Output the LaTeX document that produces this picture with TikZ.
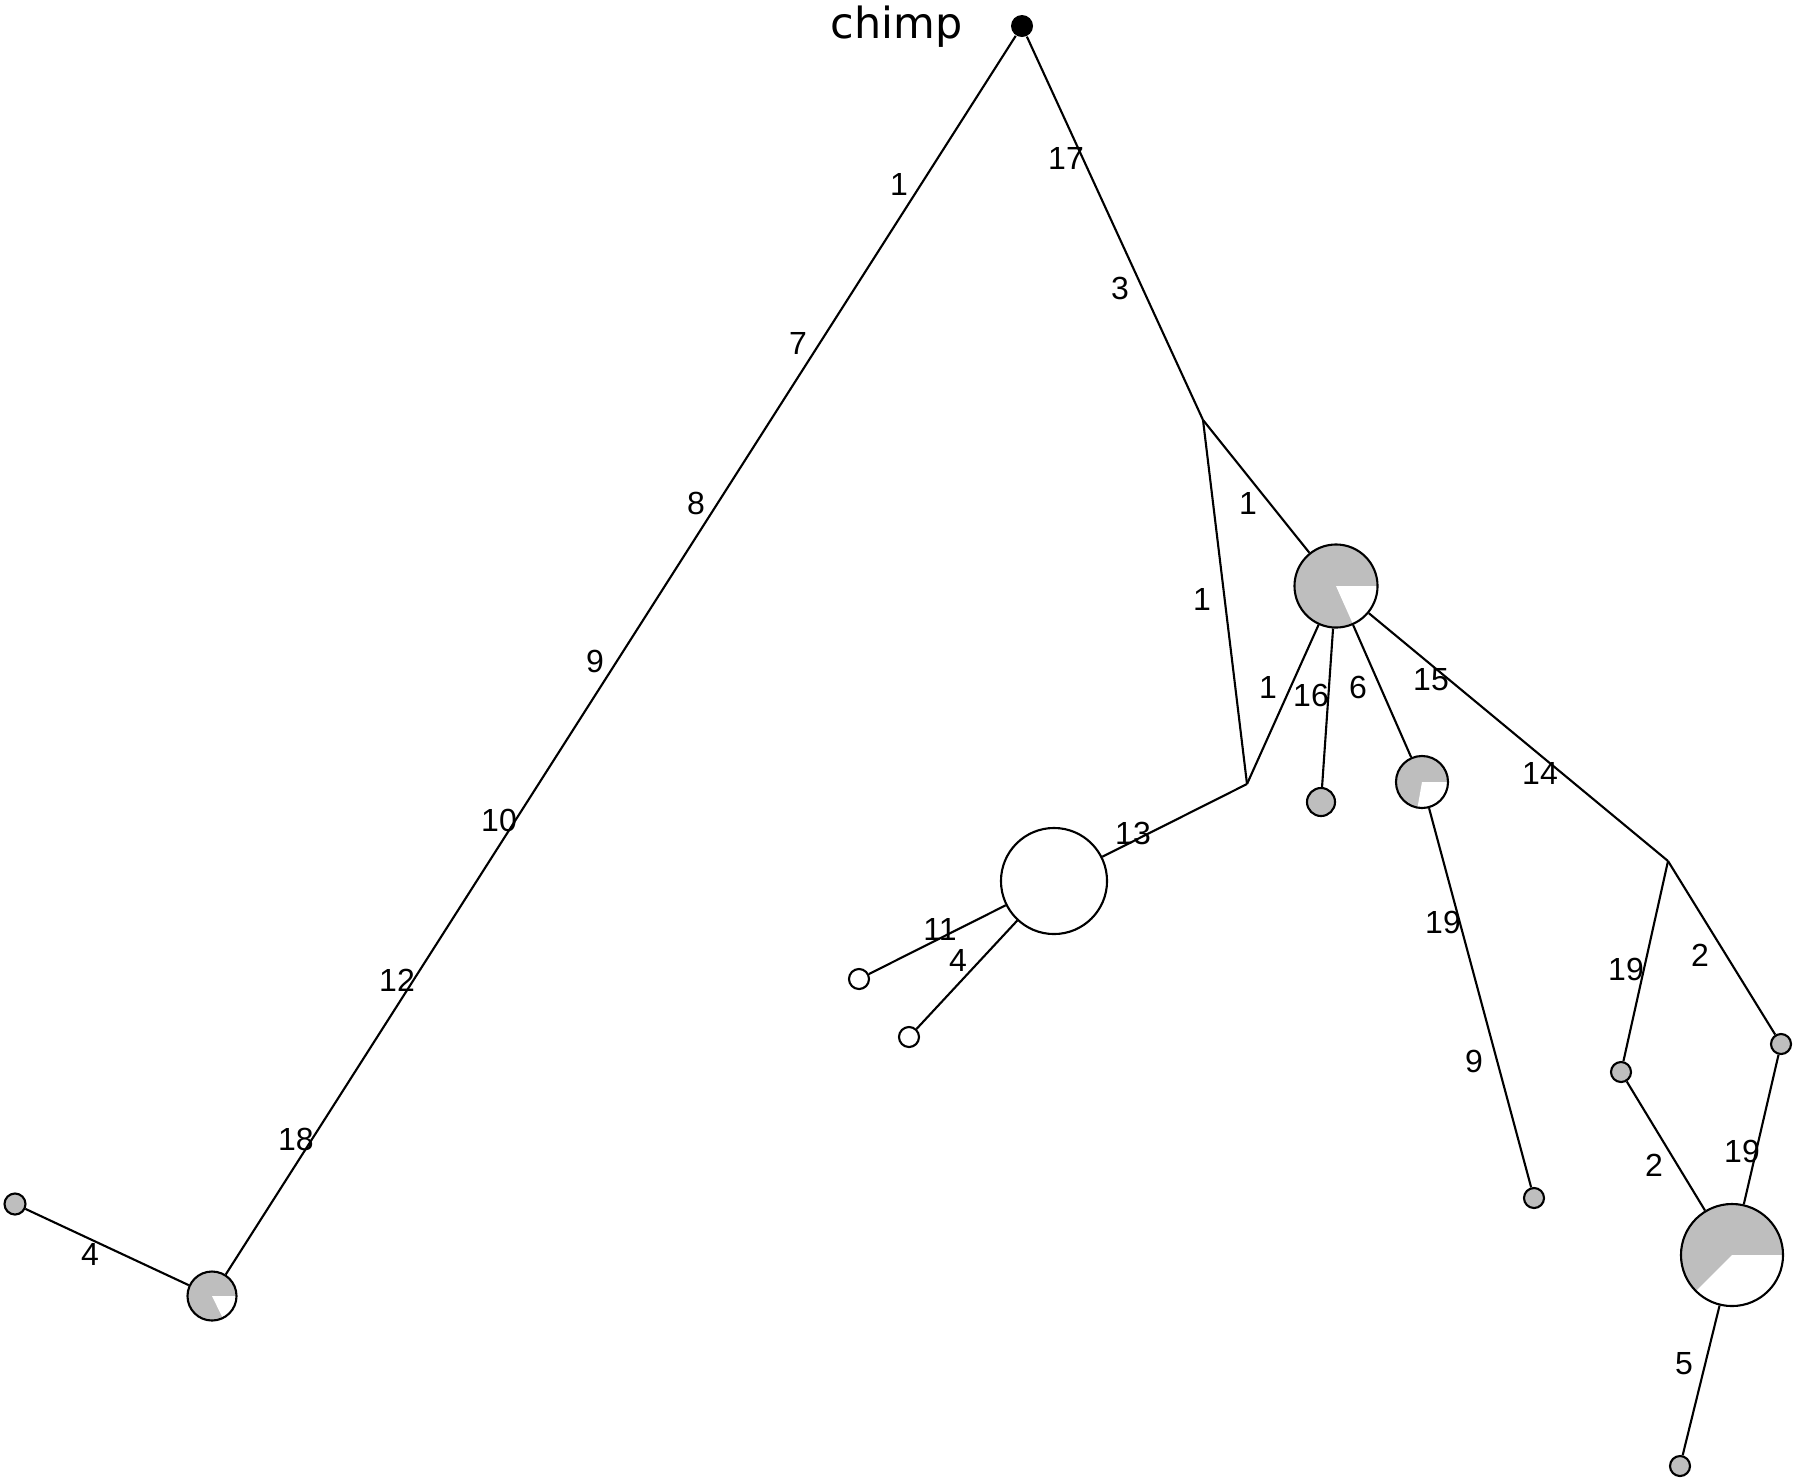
\documentclass[tikz,border=0pt]{standalone}
\usepackage{fontspec}
\setmainfont{Liberation Sans}
\newfontfamily\chimpfont{DejaVu Sans}
\definecolor{piegray}{RGB}{190,190,190}
\begin{document}
\begin{tikzpicture}[x=0.01cm,y=-0.01cm,
  edge/.style={draw=black,line width=0.6pt},
  hap/.style={circle,draw=black,line width=0.6pt,inner sep=0pt,minimum size=#1},
  grayhap/.style={hap=#1,fill=piegray},
  whitehap/.style={hap=#1,fill=white},
  pie/.style 2 args={hap=#1,fill=piegray,path picture={
     \fill[white] (path picture bounding box.center) -- +(0:3cm)
       arc[start angle=0,end angle=#2,radius=3cm] -- cycle;}},
  lab/.style={font=\fontsize{9.1pt}{10pt}\selectfont,inner sep=0pt}]
\useasboundingbox (0,0) rectangle (1800,1481);
% nodes
\node[circle,fill=black,inner sep=0pt,minimum size=0.22cm] (chimp) at (1022,26) {};
\node[anchor=base east,font=\chimpfont\fontsize{12.2pt}{14pt}\selectfont,inner sep=0pt] (chimplab) at (963,38) {chimp};
\coordinate (A) at (1203,420);
\node[pie={0.83cm}{-66}] (B) at (1336,586) {};
\coordinate (C) at (1247,784);
\node[whitehap=1.06cm] (D) at (1054,881) {};
\node[whitehap=0.2cm] (w1) at (859,979) {};
\node[whitehap=0.2cm] (w2) at (909,1037) {};
\node[grayhap=0.28cm] (g16) at (1321,802) {};
\node[pie={0.52cm}{-100}] (E) at (1422,782) {};
\node[grayhap=0.2cm] (g9) at (1534,1198) {};
\coordinate (F) at (1668,861);
\node[grayhap=0.2cm] (g19) at (1621,1072) {};
\node[grayhap=0.2cm] (g2) at (1781,1044) {};
\node[pie={1.02cm}{-135}] (G) at (1732,1255) {};
\node[grayhap=0.2cm] (g5) at (1680,1466) {};
\node[pie={0.49cm}{-64}] (H) at (212,1296) {};
\node[grayhap=0.21cm] (g4) at (15,1204) {};
% edges
\draw[edge] (chimp) -- (H);
\draw[edge] (chimp) -- (A);
\draw[edge] (A) -- (B);
\draw[edge] (A) -- (C);
\draw[edge] (C) -- (B);
\draw[edge] (B) -- (g16);
\draw[edge] (B) -- (E);
\draw[edge] (B) -- (F);
\draw[edge] (C) -- (D);
\draw[edge] (D) -- (w1);
\draw[edge] (D) -- (w2);
\draw[edge] (E) -- (g9);
\draw[edge] (F) -- (g19);
\draw[edge] (F) -- (g2);
\draw[edge] (g19) -- (G);
\draw[edge] (g2) -- (G);
\draw[edge] (G) -- (g5);
\draw[edge] (H) -- (g4);
% labels
\node[lab] (l1) at (899,184) {1};
\node[lab] (l2) at (798,343) {7};
\node[lab] (l3) at (696,503) {8};
\node[lab] (l4) at (595,661) {9};
\node[lab] (l5) at (499,820) {10};
\node[lab] (l6) at (397,980) {12};
\node[lab] (l7) at (296,1139) {18};
\node[lab] (l8) at (1066,158) {17};
\node[lab] (l9) at (1120,288) {3};
\node[lab] (l10) at (1248,503) {1};
\node[lab] (l11) at (1202,599) {1};
\node[lab] (l12) at (1268,687) {1};
\node[lab] (l13) at (1311,695) {16};
\node[lab] (l14) at (1358,687) {6};
\node[lab] (l15) at (1431,680) {15};
\node[lab] (l16) at (1540,773) {14};
\node[lab] (l17) at (1133,833) {13};
\node[lab] (l18) at (940,929) {11};
\node[lab] (l19) at (958,960) {4};
\node[lab] (l20) at (1443,922) {19};
\node[lab] (l21) at (1474,1061) {9};
\node[lab] (l22) at (1626,969) {19};
\node[lab] (l23) at (1700,955) {2};
\node[lab] (l24) at (1654,1165) {2};
\node[lab] (l25) at (1742,1151) {19};
\node[lab] (l26) at (1684,1364) {5};
\node[lab] (l27) at (90,1254) {4};
\end{tikzpicture}
\end{document}
